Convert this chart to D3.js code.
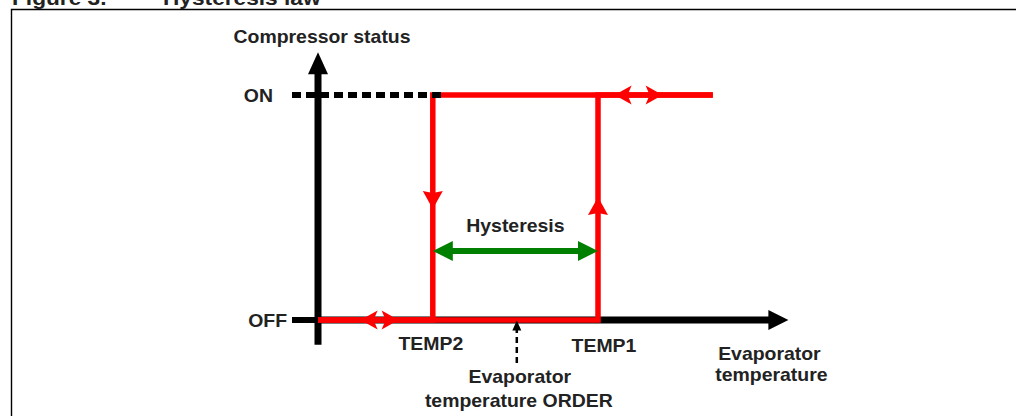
<!DOCTYPE html>
<html>
<head>
<meta charset="utf-8">
<script src="https://cdn.jsdelivr.net/npm/d3@7"></script>
<style>
  html, body { margin: 0; padding: 0; background: #fff; }
  svg { display: block; }
  text { font-family: "Liberation Sans", Arial, sans-serif; font-weight: bold; fill: #222; }
</style>
</head>
<body>
<svg id="chart" width="1016" height="416"></svg>
<script>
// ---- data ----
const states = ["OFF", "ON"];
const stateValues = [0, 1];
const thresholdLabels = ["TEMP2", "TEMP1"];
const thresholdValues = [4.1, 10];
const orderLabel = ["Evaporator", "temperature ORDER"];
const orderValue = 7.1;
const risingX = [0, 10, 10, 14.1];
const risingY = [0, 0, 1, 1];
const fallingX = [14.1, 4.1, 4.1, 0];
const fallingY = [1, 1, 0, 0];
const switchArrowX = [4.1, 10];
const switchArrowY = [0.493, 0.547];
const switchArrowDir = ["down", "up"];
const idleArrowX = [2.2, 11.45];
const idleArrowY = [0, 1];
const hysteresisLabel = "Hysteresis";
const hysteresisY = 0.307;
const xAxisMax = 16.8;
const yAxisRange = [-0.11, 1.19];
const yTitle = "Compressor status";
const xTitle = ["Evaporator", "temperature"];
const figTitle = ["Figure 3.", "Hysteresis law"];

// ---- layout ----
const svg = d3.select("#chart");
const x = d3.scaleLinear().domain([0, 10]).range([318, 598]);
const y = d3.scaleLinear().domain([0, 1]).range([320, 95]);
const RED = "#ff0000", GREEN = "#008000", BLACK = "#000";

function label(t, px, py, anchor, size) {
  svg.append("text")
    .attr("transform", `translate(${px},${py}) scale(1.08,1)`)
    .attr("text-anchor", anchor || "middle")
    .style("font-size", (size || 18) + "px")
    .text(t);
}
function arrowHead(tipX, tipY, dir, len, half, color, notch) {
  const [dx, dy] = dir;
  const bx = tipX - dx * len, by = tipY - dy * len;
  const px = -dy, py = dx;
  const n = notch || 0;
  const nx = bx + dx * n, ny = by + dy * n;
  svg.append("path")
    .attr("d", `M${tipX},${tipY}L${bx + px * half},${by + py * half}L${nx},${ny}L${bx - px * half},${by - py * half}Z`)
    .attr("fill", color);
}

// frame + title
svg.append("path").attr("d", "M11.5,416V9.5H1016").attr("fill", "none").attr("stroke", BLACK).attr("stroke-width", 1.4);
label(figTitle[0], 12, 5, "start", 21);
label(figTitle[1], 163, 5, "start", 21);

// axes
const x0 = x(0), y0 = y(0);
svg.append("line").attr("x1", x0).attr("x2", x0).attr("y1", y(yAxisRange[0])).attr("y2", y(yAxisRange[1]) + 18)
  .attr("stroke", BLACK).attr("stroke-width", 7);
arrowHead(x0, y(yAxisRange[1]), [0, -1], 22, 10, BLACK);
svg.append("line").attr("x1", x0).attr("x2", x(xAxisMax) - 18).attr("y1", y0).attr("y2", y0)
  .attr("stroke", BLACK).attr("stroke-width", 7);
arrowHead(x(xAxisMax), y0, [1, 0], 20, 10, BLACK);
// OFF tick
svg.append("line").attr("x1", x0 - 26).attr("x2", x0).attr("y1", y(0)).attr("y2", y(0))
  .attr("stroke", BLACK).attr("stroke-width", 6);

// hysteresis loop
const line = d3.line().x(d => x(d[0])).y(d => y(d[1]));
svg.append("path").attr("d", line(d3.zip(fallingX, fallingY)))
  .attr("fill", "none").attr("stroke", RED).attr("stroke-width", 5.5).attr("stroke-linejoin", "miter");
svg.append("path").attr("d", line(d3.zip(risingX, risingY)))
  .attr("fill", "none").attr("stroke", RED).attr("stroke-width", 5.5).attr("stroke-linejoin", "miter");

// ON dashed level
svg.append("line").attr("x1", x0 - 26).attr("x2", x(thresholdValues[0]) + 11).attr("y1", y(1)).attr("y2", y(1))
  .attr("stroke", BLACK).attr("stroke-width", 6).attr("stroke-dasharray", "9,5");

// state labels
states.forEach((s, i) => {
  label(s, x0 - (i === 0 ? 31 : 45), y(stateValues[i]) + 6.5, "end", 18);
});

// switching arrows
switchArrowX.forEach((v, i) => {
  arrowHead(x(v), y(switchArrowY[i]), switchArrowDir[i] === "down" ? [0, 1] : [0, -1], 18, 10, RED, 2);
});
// idle double arrows
idleArrowX.forEach((v, i) => {
  const cx = x(v), cy = y(idleArrowY[i]);
  const off = i === 0 ? 19 : 24;
  arrowHead(cx - off, cy, [-1, 0], 17, 9.5, RED, 4);
  arrowHead(cx + off, cy, [1, 0], 17, 9.5, RED, 4);
});

// hysteresis green arrow
const gy = y(hysteresisY), gl = x(thresholdValues[0]), gr = x(thresholdValues[1]);
svg.append("line").attr("x1", gl + 15).attr("x2", gr - 15).attr("y1", gy).attr("y2", gy)
  .attr("stroke", GREEN).attr("stroke-width", 6);
arrowHead(gl, gy, [-1, 0], 20, 10, GREEN);
arrowHead(gr, gy, [1, 0], 20, 10, GREEN);
label(hysteresisLabel, (gl + gr) / 2, gy - 19, "middle", 18);

// threshold labels
thresholdLabels.forEach((t, i) => {
  label(t, x(thresholdValues[i]) - 2 + i * 8, y(0) + 30 + i * 2, "middle", 18);
});

// order dashed arrow
const ox = x(orderValue);
svg.append("line").attr("x1", ox).attr("x2", ox).attr("y1", y(0) + 43).attr("y2", y(0) + 10)
  .attr("stroke", BLACK).attr("stroke-width", 2.5).attr("stroke-dasharray", "6,4");
arrowHead(ox, y(0) + 0.5, [0, -1], 10, 4.5, BLACK);
label(orderLabel[0], ox + 3, y(0) + 63, "middle", 18);
label(orderLabel[1], ox + 2, y(0) + 86.5, "middle", 18);

// axis titles
label(yTitle, x0 + 4, 43, "middle", 18);
label(xTitle[0], x(xAxisMax) - 19, y(0) + 40, "middle", 18);
label(xTitle[1], x(xAxisMax) - 17, y(0) + 61, "middle", 18);
</script>
</body>
</html>
